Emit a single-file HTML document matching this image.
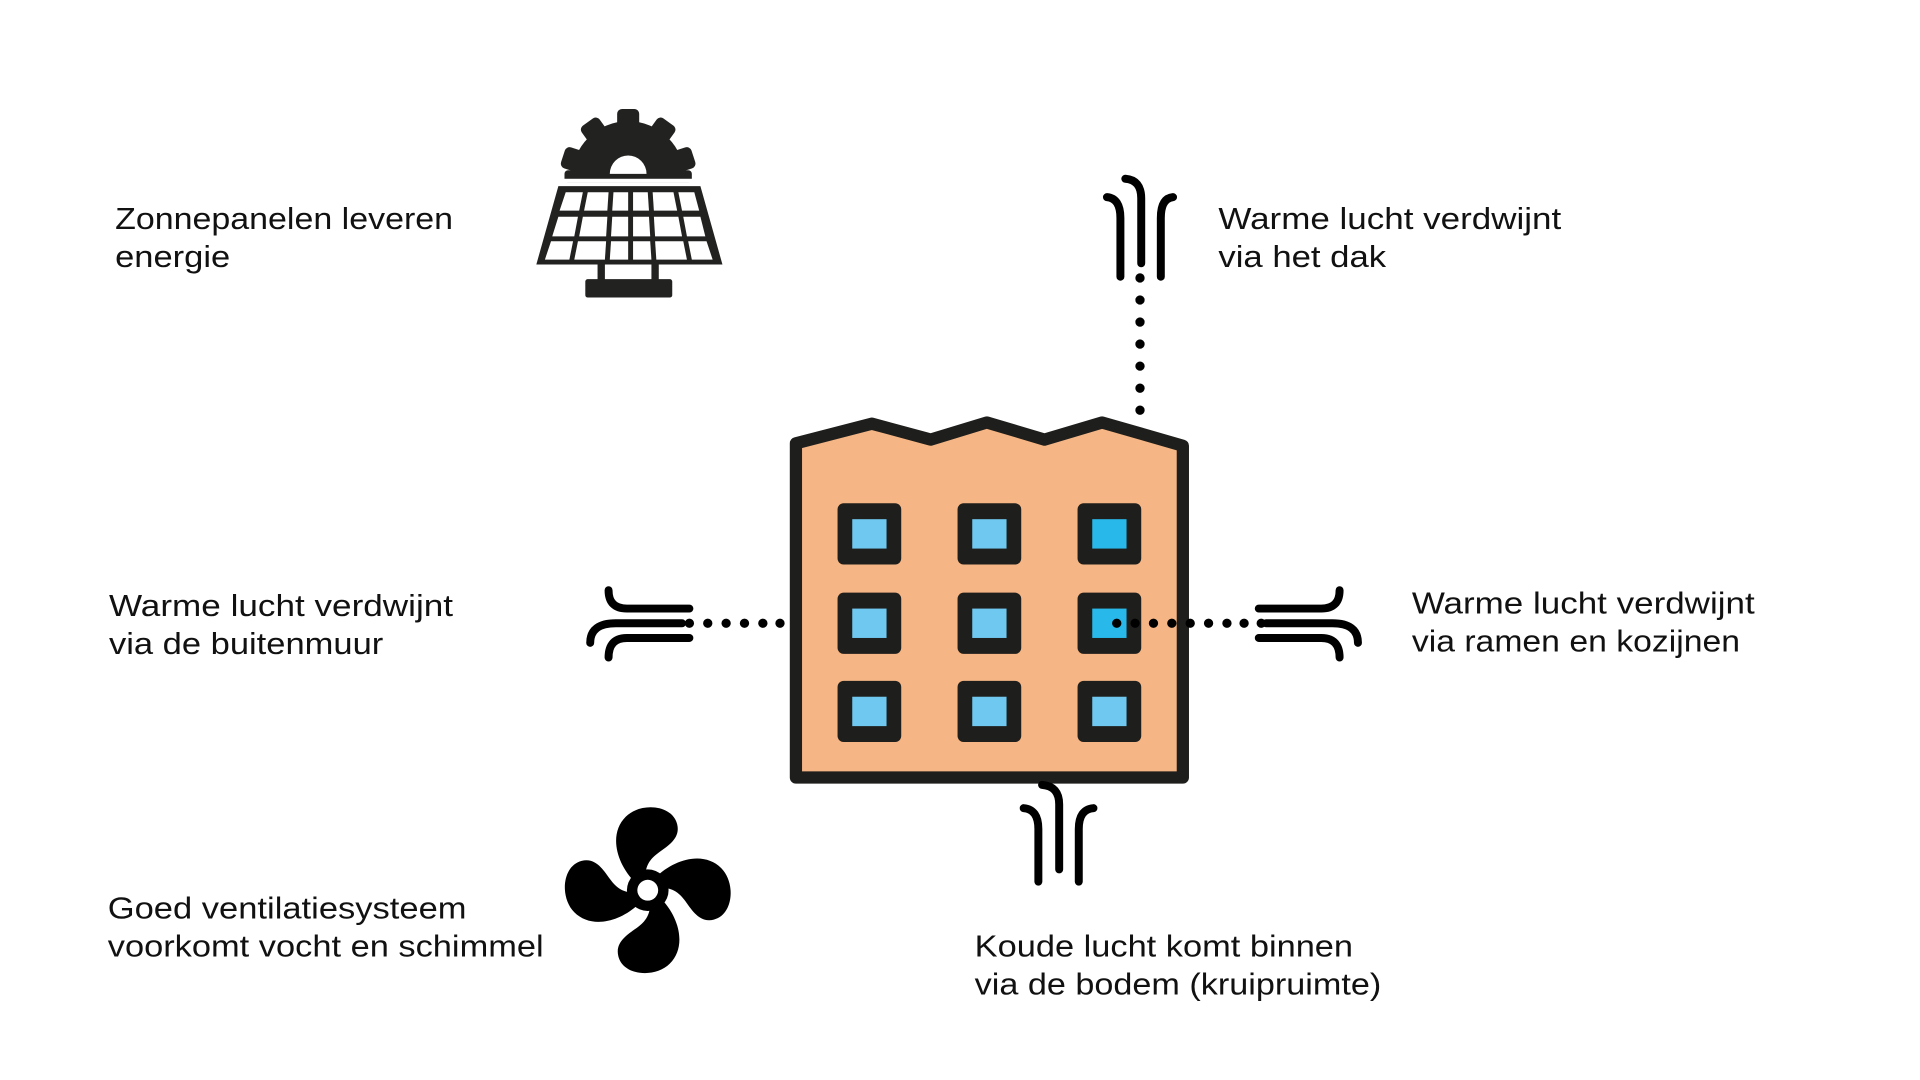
<!DOCTYPE html>
<html><head><meta charset="utf-8"><style>
html,body{margin:0;padding:0;background:#fff;}
svg{display:block;}
text{font-family:"Liberation Sans",sans-serif;font-size:25px;fill:#111;}
</style></head><body>
<svg width="1920" height="1080" viewBox="0 0 1568 882" xmlns="http://www.w3.org/2000/svg">
<rect width="1568" height="882" fill="#fff"/>
<!-- labels -->
<text x="94" y="187" textLength="276" lengthAdjust="spacingAndGlyphs">Zonnepanelen leveren</text><text x="94" y="218" textLength="94" lengthAdjust="spacingAndGlyphs">energie</text>
<text x="995" y="187" textLength="280" lengthAdjust="spacingAndGlyphs">Warme lucht verdwijnt</text><text x="995" y="218" textLength="137" lengthAdjust="spacingAndGlyphs">via het dak</text>
<text x="89" y="503" textLength="281" lengthAdjust="spacingAndGlyphs">Warme lucht verdwijnt</text><text x="89" y="534" textLength="224" lengthAdjust="spacingAndGlyphs">via de buitenmuur</text>
<text x="1153" y="501" textLength="280" lengthAdjust="spacingAndGlyphs">Warme lucht verdwijnt</text><text x="1153" y="532" textLength="268" lengthAdjust="spacingAndGlyphs">via ramen en kozijnen</text>
<text x="88" y="750" textLength="293" lengthAdjust="spacingAndGlyphs">Goed ventilatiesysteem</text><text x="88" y="781" textLength="356" lengthAdjust="spacingAndGlyphs">voorkomt vocht en schimmel</text>
<text x="796" y="781" textLength="309" lengthAdjust="spacingAndGlyphs">Koude lucht komt binnen</text><text x="796" y="812" textLength="332" lengthAdjust="spacingAndGlyphs">via de bodem (kruipruimte)</text>

<!-- building -->
<polygon points="650,362 712,346 760,359 806,345 853,359 900,345 966,364 966,635 650,635" fill="#f5b584" stroke="#1e1e1c" stroke-width="10" stroke-linejoin="round"/>
<g fill="#1e1e1c">
<rect x="684" y="411" width="52" height="50" rx="5"/><rect x="782" y="411" width="52" height="50" rx="5"/><rect x="880" y="411" width="52" height="50" rx="5"/>
<rect x="684" y="484" width="52" height="50" rx="5"/><rect x="782" y="484" width="52" height="50" rx="5"/><rect x="880" y="484" width="52" height="50" rx="5"/>
<rect x="684" y="556" width="52" height="50" rx="5"/><rect x="782" y="556" width="52" height="50" rx="5"/><rect x="880" y="556" width="52" height="50" rx="5"/>
</g>
<g fill="#6fc8f0">
<rect x="696" y="424" width="28" height="24"/><rect x="794" y="424" width="28" height="24"/>
<rect x="696" y="497" width="28" height="24"/><rect x="794" y="497" width="28" height="24"/>
<rect x="696" y="569" width="28" height="24"/><rect x="794" y="569" width="28" height="24"/><rect x="892" y="569" width="28" height="24"/>
</g>
<g fill="#29b8ea"><rect x="892" y="424" width="28" height="24"/><rect x="892" y="497" width="28" height="24"/></g>

<!-- dots -->
<g fill="#000">
<circle cx="931" cy="227" r="3.8"/><circle cx="931" cy="245" r="3.8"/><circle cx="931" cy="263" r="3.8"/><circle cx="931" cy="281" r="3.8"/><circle cx="931" cy="299" r="3.8"/><circle cx="931" cy="317" r="3.8"/><circle cx="931" cy="335" r="3.8"/>
<circle cx="563" cy="509" r="3.8"/><circle cx="578" cy="509" r="3.8"/><circle cx="593" cy="509" r="3.8"/><circle cx="608" cy="509" r="3.8"/><circle cx="623" cy="509" r="3.8"/><circle cx="637" cy="509" r="3.8"/>
<circle cx="912" cy="509" r="3.8"/><circle cx="927" cy="509" r="3.8"/><circle cx="942" cy="509" r="3.8"/><circle cx="957" cy="509" r="3.8"/><circle cx="972" cy="509" r="3.8"/><circle cx="987" cy="509" r="3.8"/><circle cx="1002" cy="509" r="3.8"/><circle cx="1016" cy="509" r="3.8"/><circle cx="1030" cy="509" r="3.8"/>
</g>

<!-- wind icons -->
<g fill="none" stroke="#000" stroke-width="6.5" stroke-linecap="round">
<path d="M919,146 Q932,147 932,162 V215"/>
<path d="M904,161 Q915,162 915,178 V226"/>
<path d="M958,161 Q948,162 948,178 V226"/>
<path d="M851,641 Q865,642 865,657 V710"/>
<path d="M836,660 Q848,661 848,677 V720"/>
<path d="M893,660 Q881,661 881,677 V720"/>
<path d="M497,482 Q497,497 512,497 H563"/>
<path d="M557,509 H503 Q482,509 482,525"/>
<path d="M563,521 H512 Q497,521 497,537"/>
<path d="M1094,482 Q1094,497 1079,497 H1028"/>
<path d="M1034,509 H1088 Q1109,509 1109,525"/>
<path d="M1028,521 H1079 Q1094,521 1094,537"/>
</g>

<!-- solar panel -->
<g fill="#222220">
<g transform="translate(513,145)">
<path d="M-46,0 A46,46 0 0 1 46,0 Z"/>
<rect x="-9" y="-56" width="18" height="16" rx="4"/>
<rect x="-9" y="-56" width="18" height="16" rx="4" transform="rotate(-36)"/>
<rect x="-9" y="-56" width="18" height="16" rx="4" transform="rotate(36)"/>
<rect x="-9" y="-56" width="18" height="16" rx="4" transform="rotate(-72)"/>
<rect x="-9" y="-56" width="18" height="16" rx="4" transform="rotate(72)"/>
<rect x="-52" y="-6" width="104" height="10" rx="3"/>
</g>
<polygon points="456,152 572,152 590,216 438,216"/>
<rect x="488" y="216" width="6" height="14"/><rect x="532" y="216" width="6" height="14"/>
<rect x="478" y="228" width="71" height="15" rx="2"/>
</g>
<path d="M498,142 A15,15 0 0 1 528,142 Z" fill="#fff"/>
<rect x="455" y="146" width="116" height="3" fill="#fff"/>
<g fill="#fff">
<polygon points="462,157 476,157 473,172 457,172"/><polygon points="480,157 497,157 496,172 477,172"/><polygon points="501,157 513,157 513,172 500,172"/><polygon points="517,157 529,157 530,172 517,172"/><polygon points="533,157 550,157 553,172 534,172"/><polygon points="554,157 567,157 571,172 557,172"/>
<polygon points="456,177 472,177 469,193 451,193"/><polygon points="476,177 496,177 495,193 473,193"/><polygon points="500,177 513,177 513,193 499,193"/><polygon points="517,177 530,177 531,193 517,193"/><polygon points="534,177 554,177 557,193 535,193"/><polygon points="558,177 572,177 576,193 561,193"/>
<polygon points="450,197 468,197 465,212 445,212"/><polygon points="472,197 495,197 494,212 469,212"/><polygon points="499,197 513,197 513,212 498,212"/><polygon points="517,197 531,197 532,212 517,212"/><polygon points="535,197 558,197 561,212 536,212"/><polygon points="562,197 577,197 582,212 565,212"/>
</g>

<!-- fan -->
<g transform="translate(529,727)" fill="#000">
<g id="blade"><path d="M-10,-6 C-26,-22 -32,-46 -18,-60 C-6,-72 20,-70 24,-54 C27,-42 16,-36 8,-30 C0,-24 -2,-18 -2,-10 Z"/></g>
<use href="#blade" transform="rotate(90)"/>
<use href="#blade" transform="rotate(180)"/>
<use href="#blade" transform="rotate(270)"/>
<circle r="17"/>
<circle r="8.5" fill="#fff"/>
</g>
</svg>
</body></html>
